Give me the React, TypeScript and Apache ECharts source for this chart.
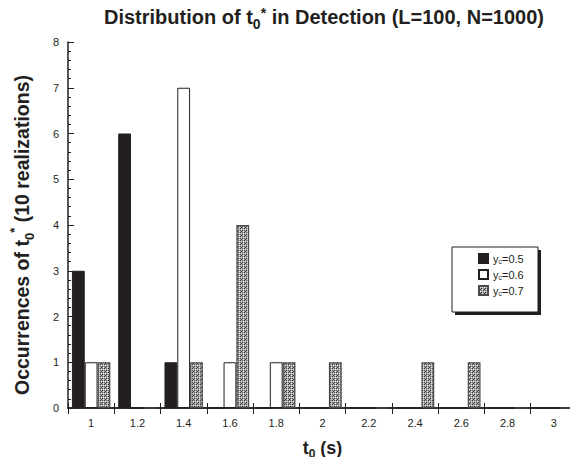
import React, { useEffect, useRef } from "react";
import * as echarts from "echarts";

const categories = ["1", "1.2", "1.4", "1.6", "1.8", "2", "2.2", "2.4", "2.6", "2.8", "3"];
const ycValues = ["0.5", "0.6", "0.7"];
const seriesYc05 = [3, 6, 1, 0, 0, 0, 0, 0, 0, 0, 0];
const seriesYc06 = [1, 0, 7, 1, 1, 0, 0, 0, 0, 0, 0];
const seriesYc07 = [1, 0, 1, 4, 1, 1, 0, 1, 1, 0, 0];
const yTicks = { min: 0, max: 8, interval: 1 };

const INK = "#231f20";
const FONT = "Liberation Sans";

function makePattern(): HTMLCanvasElement {
  const c = document.createElement("canvas");
  c.width = 4;
  c.height = 4;
  const ctx = c.getContext("2d")!;
  ctx.fillStyle = "#a4a4a4";
  ctx.fillRect(0, 0, 4, 4);
  ctx.fillStyle = "#3a3a3a";
  ctx.fillRect(0, 0, 1, 1);
  ctx.fillRect(2, 2, 1, 1);
  ctx.fillRect(1, 3, 1, 1);
  ctx.fillStyle = "#6a6a6a";
  ctx.fillRect(2, 0, 1, 1);
  ctx.fillRect(0, 2, 1, 1);
  ctx.fillStyle = "#e6e6e6";
  ctx.fillRect(1, 1, 1, 1);
  ctx.fillRect(3, 3, 1, 1);
  ctx.fillRect(3, 1, 1, 1);
  return c;
}

export default function App() {
  const ref = useRef<HTMLDivElement>(null);

  useEffect(() => {
    if (!ref.current) return;
    const chart = echarts.init(ref.current, null, { renderer: "svg" });
    const pattern = { image: makePattern(), repeat: "repeat" as const };

    const nameRich = (size: number, subSize: number, lh: number) => ({
      a: { fontFamily: FONT, fontWeight: "bold", fontSize: size, color: INK, lineHeight: lh },
      sub: { fontFamily: FONT, fontWeight: "bold", fontSize: subSize, color: INK, lineHeight: subSize, verticalAlign: "bottom" },
      sup: { fontFamily: FONT, fontWeight: "bold", fontSize: subSize, color: INK, lineHeight: subSize, verticalAlign: "top" },
    });

    const seriesStyles = [
      { color: INK, borderColor: INK, borderWidth: 1 },
      { color: "#ffffff", borderColor: INK, borderWidth: 1 },
      { color: pattern, borderColor: "#4a4a4a", borderWidth: 1.2 },
    ];
    const datasets = [seriesYc05, seriesYc06, seriesYc07];

    chart.setOption({
      animation: false,
      backgroundColor: "#ffffff",
      textStyle: { fontFamily: FONT, color: INK },
      title: {
        left: 104,
        top: 2,
        padding: 0,
        text: "{a|Distribution of t}{sub|0}{sup|*}{a| in Detection (L=100, N=1000)}",
        textStyle: {
          rich: {
            a: { fontFamily: FONT, fontWeight: "bold", fontSize: 20, color: INK, lineHeight: 30 },
            sub: { fontFamily: FONT, fontWeight: "bold", fontSize: 14, color: INK, lineHeight: 14, padding: [14, 0, 0, 0] },
            sup: { fontFamily: FONT, fontWeight: "bold", fontSize: 14, color: INK, lineHeight: 14, padding: [0, 0, 8, 0] },
          },
        },
      },
      graphic: [
        { type: "rect", shape: { x: 455, y: 250, width: 86, height: 65 }, style: { fill: INK } },
        { type: "rect", shape: { x: 452, y: 247, width: 86, height: 65 }, style: { fill: "#ffffff", stroke: INK, lineWidth: 1 } },
      ],
      legend: {
        orient: "vertical",
        left: 452,
        top: 253,
        padding: [0, 10, 8, 26],
        itemWidth: 9,
        itemHeight: 9,
        itemGap: 4,
        icon: "rect",
        formatter: (name: string) => `{y|y}{c|c}{y|=${name.split("=")[1]}}`,
        textStyle: {
          rich: {
            y: { fontFamily: FONT, fontSize: 11, color: INK, lineHeight: 13 },
            c: { fontFamily: FONT, fontSize: 7, color: INK, lineHeight: 7, verticalAlign: "bottom" },
          },
        },
      },
      grid: { left: 63, right: 1, top: 42, bottom: 48, containLabel: false },
      xAxis: [
        {
          type: "category",
          data: categories,
          position: "bottom",
          name: "{a|t}{sub|0}{a| (s)}",
          nameLocation: "middle",
          nameGap: 28,
          nameTextStyle: { rich: nameRich(18, 12, 24) },
          axisLine: { show: true, lineStyle: { color: INK, width: 1.5 } },
          axisTick: { show: true, inside: false, length: 6, lineStyle: { color: INK } },
          axisLabel: { color: INK, fontSize: 11, fontFamily: FONT, margin: 9 },
          splitLine: { show: false },
        },
        {
          type: "category",
          data: categories,
          position: "top",
          axisLine: { show: true, lineStyle: { color: INK, width: 1.5 } },
          axisTick: { show: true, inside: false, length: 5, lineStyle: { color: INK } },
          axisLabel: { show: false },
          splitLine: { show: false },
        },
      ],
      yAxis: [
        {
          type: "value",
          position: "left",
          min: yTicks.min,
          max: yTicks.max,
          interval: yTicks.interval,
          name: "{a|Occurrences of t}{sub|0}{sup|*}{a| (10 realizations)}",
          nameLocation: "middle",
          nameRotate: 90,
          nameGap: 32,
          nameTextStyle: { rich: nameRich(19.5, 13, 28), padding: [0, 20, 0, 0] },
          axisLine: { show: true, lineStyle: { color: INK, width: 1.5 } },
          axisTick: { show: true, inside: true, length: 6, lineStyle: { color: INK } },
          minorTick: { show: true, splitNumber: 5, length: 3, lineStyle: { color: INK } },
          axisLabel: { color: INK, fontSize: 11, fontFamily: FONT, margin: 9 },
          splitLine: { show: false },
          minorSplitLine: { show: false },
        },
        {
          type: "value",
          position: "right",
          min: yTicks.min,
          max: yTicks.max,
          interval: yTicks.interval,
          axisLine: { show: true, lineStyle: { color: INK, width: 1.5 } },
          axisTick: { show: true, inside: true, length: 5, lineStyle: { color: "#555" } },
          minorTick: { show: true, splitNumber: 5, length: 2, lineStyle: { color: "#777" } },
          axisLabel: { show: false },
          splitLine: { show: false },
          minorSplitLine: { show: false },
        },
      ],
      series: ycValues.map((v, i) => ({
        type: "bar",
        name: `y_c=${v}`,
        data: datasets[i],
        xAxisIndex: 0,
        yAxisIndex: 0,
        barGap: "0%",
        barCategoryGap: "17%",
        itemStyle: seriesStyles[i],
        emphasis: { disabled: true },
      })),
    });

    return () => chart.dispose();
  }, []);

  return <div ref={ref} style={{ width: 578, height: 465, margin: -8 }} />;
}
